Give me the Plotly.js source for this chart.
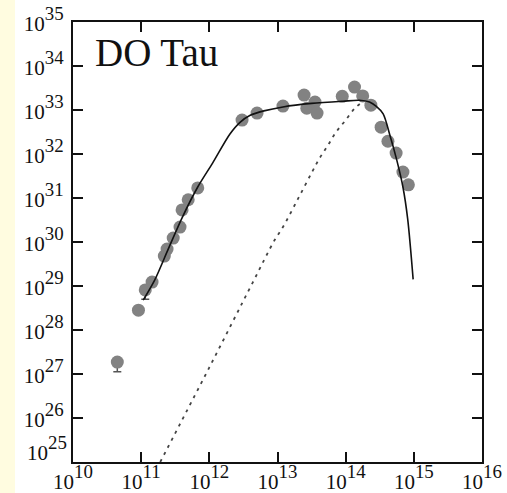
<!DOCTYPE html>
<html>
<head>
<meta charset="utf-8">
<script src="https://cdn.plot.ly/plotly-3.0.1.min.js"></script>
<style>
  html, body { margin: 0; padding: 0; background: #FFFCE0; width: 507px; height: 493px; overflow: hidden; }
  #plot { position: absolute; left: 15px; top: 0; width: 492px; height: 493px; background: #fff; }
</style>
</head>
<body>
<div id="plot"></div>
<script>
// Observed data points (log10 frequency, log10 luminosity)
const obsLogX = [10.96, 11.16, 11.34, 11.38, 11.47, 11.57, 11.60, 11.69, 11.83,
                 12.48, 12.70, 13.08, 13.39, 13.43, 13.55, 13.58, 13.95, 14.13, 14.25, 14.37,
                 14.52, 14.62, 14.74, 14.84, 14.92];
const obsLogY = [28.45, 29.09, 29.68, 29.84, 30.09, 30.34, 30.73, 30.96, 31.23,
                 32.77, 32.93, 33.09, 33.34, 33.04, 33.18, 32.93, 33.31, 33.52, 33.32, 33.11,
                 32.61, 32.29, 32.02, 31.59, 31.30];

// Points drawn with lower error bars (log10 values, and log10 of the lower end)
const errLogX = [10.65, 11.06];
const errLogY = [27.27, 28.91];
const errLowLogY = [27.05, 28.70];

// Model curve (solid)
const modelLogX = [11.03, 11.20, 11.40, 11.60, 11.83, 12.05, 12.30, 12.45, 12.60, 12.80, 13.08,
                   13.50, 13.96, 14.20, 14.35, 14.45, 14.55, 14.65, 14.75, 14.84, 14.91, 14.99];
const modelLogY = [28.68, 29.14, 29.85, 30.55, 31.25, 31.80, 32.45, 32.72, 32.88, 32.98, 33.07,
                   33.15, 33.20, 33.22, 33.18, 33.08, 32.91, 32.42, 31.86, 31.25, 30.52, 29.15];

// Dotted component
const compLogX = [11.28, 12.00, 12.64, 12.96, 13.08, 13.30, 13.50, 13.62, 13.74, 13.86, 14.00, 14.14, 14.25];
const compLogY = [25.00, 27.15, 29.09, 30.05, 30.34, 30.98, 31.57, 31.91, 32.20, 32.50, 32.77, 33.05, 33.18];

// Axis ticks (decade exponents); the lowest y label is drawn raised, as in the original
const xTickExp = [10, 11, 12, 13, 14, 15, 16];
const yTickExp = [25, 26, 27, 28, 29, 30, 31, 32, 33, 34, 35];
const yRaisedLabelExp = 25;

const p10 = v => Math.pow(10, v);
const lbl = e => '<span style="font-size:21px">10</span><sup>' + e + '</sup>';
const serif = 'Liberation Serif, Times New Roman, serif';

const traces = [
  {
    x: compLogX.map(p10), y: compLogY.map(p10), mode: 'lines', type: 'scatter',
    line: {color: '#444', width: 1.8, dash: '3px,5px', shape: 'spline'}, hoverinfo: 'skip'
  },
  {
    x: obsLogX.map(p10), y: obsLogY.map(p10), mode: 'markers', type: 'scatter',
    marker: {color: '#828282', size: 13, line: {width: 0}}
  },
  {
    x: errLogX.map(p10), y: errLogY.map(p10), mode: 'markers', type: 'scatter',
    marker: {color: '#828282', size: 13, line: {width: 0}},
    error_y: {type: 'data', symmetric: false, array: errLogY.map(() => 0),
              arrayminus: errLogY.map((v, i) => p10(v) - p10(errLowLogY[i])),
              color: '#555', thickness: 1.5, width: 4}
  },
  {
    x: modelLogX.map(p10), y: modelLogY.map(p10), mode: 'lines', type: 'scatter',
    line: {color: '#111', width: 1.6, shape: 'spline', smoothing: 0.8}
  }
];

const axisCommon = {
  type: 'log', showgrid: false, zeroline: false,
  showline: true, linecolor: '#111', linewidth: 2, mirror: 'ticks',
  ticks: 'inside', ticklen: 10, tickwidth: 2, tickcolor: '#111',
  tickfont: {family: serif, size: 27, color: '#111'}
};

const layout = {
  width: 492, height: 493,
  margin: {l: 58, r: 25, t: 22, b: 31},
  paper_bgcolor: '#fff', plot_bgcolor: '#fff',
  showlegend: false,
  xaxis: Object.assign({}, axisCommon, {
    range: [10, 16], tickvals: xTickExp.map(p10), ticktext: xTickExp.map(lbl), ticklabelstandoff: -7
  }),
  yaxis: Object.assign({}, axisCommon, {
    range: [25, 35], tickvals: yTickExp.map(p10),
    ticktext: yTickExp.map(e => e === yRaisedLabelExp ? '' : lbl(e)), ticklabelstandoff: 2
  }),
  annotations: [
    {
      text: 'DO Tau', xref: 'paper', yref: 'paper', x: 0.05, y: 0.93,
      xanchor: 'left', yanchor: 'middle', showarrow: false,
      font: {family: serif, size: 39, color: '#111'}
    },
    {
      text: lbl(yRaisedLabelExp), xref: 'paper', yref: 'paper', x: 0, y: 0,
      xanchor: 'right', yanchor: 'middle', xshift: -4, yshift: 14, showarrow: false,
      font: {family: serif, size: 27, color: '#111'}
    }
  ]
};

Plotly.newPlot('plot', traces, layout, {displayModeBar: false, staticPlot: true});
</script>
</body>
</html>
